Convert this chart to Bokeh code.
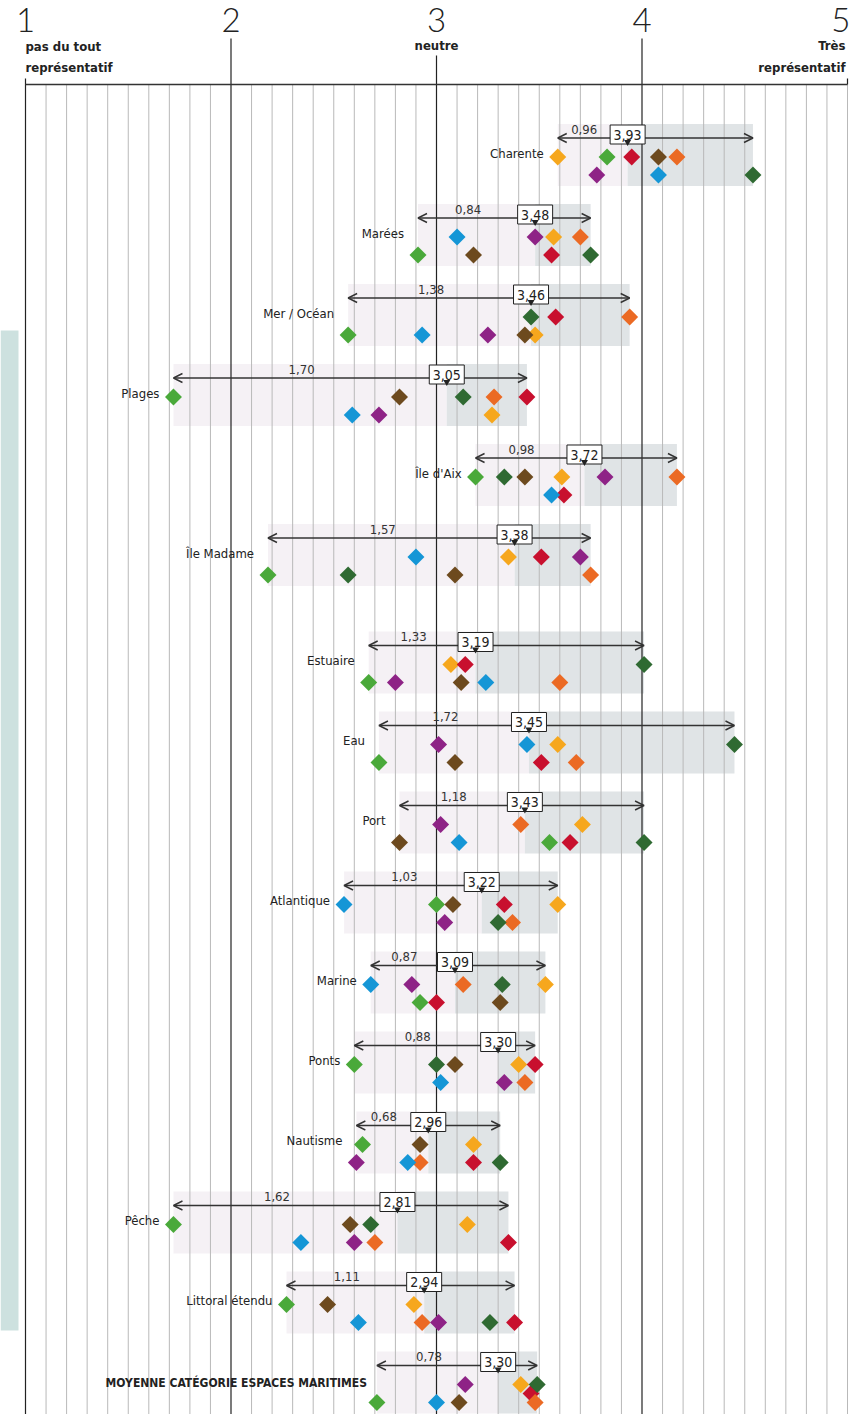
import math
from bokeh.plotting import figure
from bokeh.models import ColumnDataSource, Range1d, Arrow, OpenHead
from bokeh.core.properties import value
from bokeh.embed import file_html
from bokeh.resources import INLINE

# ---------------- data ----------------
categories = ["Charente", "Marées", "Mer / Océan", "Plages", "Île d'Aix", "Île Madame",
              "Estuaire", "Eau", "Port", "Atlantique", "Marine", "Ponts", "Nautisme",
              "Pêche", "Littoral étendu", "MOYENNE CATÉGORIE ESPACES MARITIMES"]
groupe = [0, 0, 0, 0, 0, 0, 1, 1, 1, 1, 1, 1, 1, 1, 1, 1]
moyenne = [3.93, 3.48, 3.46, 3.05, 3.72, 3.38, 3.19, 3.45, 3.43, 3.22, 3.09, 3.30, 2.96, 2.81, 2.94, 3.30]
etendue = [0.96, 0.84, 1.38, 1.70, 0.98, 1.57, 1.33, 1.72, 1.18, 1.03, 0.87, 0.88, 0.68, 1.62, 1.11, 0.78]

serie_jaune = [3.59, 3.57, 3.48, 3.27, 3.61, 3.35, 3.07, 3.59, 3.71, 3.59, 3.53, 3.40, 3.18, 3.15, 2.89, 3.41]
serie_vert = [3.83, 2.91, 2.57, 1.72, 3.19, 2.18, 2.67, 2.72, 3.55, 3.00, 2.92, 2.60, 2.64, 1.72, 2.27, 2.71]
serie_rouge = [3.95, 3.56, 3.58, 3.44, 3.62, 3.51, 3.14, 3.51, 3.65, 3.33, 3.00, 3.48, 3.18, 3.35, 3.38, 3.46]
serie_marron = [4.08, 3.18, 3.43, 2.82, 3.43, 3.09, 3.12, 3.09, 2.82, 3.08, 3.31, 3.09, 2.92, 2.58, 2.47, 3.11]
serie_orange = [4.17, 3.70, 3.94, 3.28, 4.17, 3.75, 3.60, 3.68, 3.41, 3.37, 3.13, 3.43, 2.92, 2.70, 2.93, 3.48]
serie_violet = [3.78, 3.48, 3.25, 2.72, 3.82, 3.70, 2.80, 3.01, 3.02, 3.04, 2.88, 3.33, 2.61, 2.60, 3.01, 3.14]
serie_bleu = [4.08, 3.10, 2.93, 2.59, 3.56, 2.90, 3.24, 3.44, 3.11, 2.55, 2.68, 3.02, 2.86, 2.34, 2.62, 3.00]
serie_vert_fonce = [4.54, 3.75, 3.46, 3.13, 3.33, 2.57, 4.01, 4.45, 4.01, 3.30, 3.32, 3.00, 3.31, 2.68, 3.26, 3.49]

# rangée (haut = 0, bas = 1) de chaque losange
niv_jaune = [0, 0, 1, 1, 0, 0, 0, 0, 0, 0, 0, 0, 0, 0, 0, 0]
niv_vert = [0, 1, 1, 0, 0, 1, 1, 1, 1, 0, 1, 0, 0, 0, 0, 1]
niv_rouge = [0, 1, 0, 0, 1, 0, 0, 1, 1, 0, 1, 0, 1, 1, 1, 0.5]
niv_marron = [0, 1, 1, 0, 0, 1, 1, 1, 1, 0, 1, 0, 0, 0, 0, 1]
niv_orange = [0, 0, 0, 0, 0, 1, 1, 1, 0, 1, 0, 1, 1, 1, 1, 1]
niv_violet = [1, 0, 1, 1, 0, 0, 1, 0, 0, 1, 0, 1, 1, 1, 1, 0]
niv_bleu = [1, 0, 1, 1, 1, 0, 1, 0, 1, 0, 0, 1, 1, 1, 1, 1]
niv_vert_fonce = [1, 1, 0, 0, 0, 1, 0, 0, 1, 1, 0, 0, 1, 0, 1, 0]

echelle = [1, 2, 3, 4, 5]

series = [
    (serie_jaune, niv_jaune, "#f6a71d"),
    (serie_vert, niv_vert, "#4aa93a"),
    (serie_rouge, niv_rouge, "#c8102e"),
    (serie_marron, niv_marron, "#6d4a1e"),
    (serie_orange, niv_orange, "#eb6a24"),
    (serie_violet, niv_violet, "#8e2386"),
    (serie_bleu, niv_bleu, "#1596d6"),
    (serie_vert_fonce, niv_vert_fonce, "#2f6a32"),
]

# ---------------- layout ----------------
PXU = 205.5  # pixels per unit
W, H = 852, 1414
FONT = value("'DejaVu Sans Condensed', Roboto, sans-serif")
FONT_BIG = value("'Lato Light', 'Roboto Light', Lato, sans-serif")

p = figure(width=W, height=H, output_backend="svg", toolbar_location=None,
           x_range=Range1d(1 - 25 / PXU, 1 + 827 / PXU),
           y_range=Range1d(1414, 0), min_border=0, outline_line_color=None)
p.axis.visible = False
p.grid.visible = False
p.background_fill_color = "white"

n = len(categories)
ya = [137.5 + 80 * i + 27.5 * groupe[i] for i in range(n)]
mins = [min(s[0][i] for s in series) for i in range(n)]
maxs = [max(s[0][i] for s in series) for i in range(n)]

# decorative strip on the left page edge
strip = p.quad(left=[1 - 25 / PXU], right=[1 - 7 / PXU], top=[330], bottom=[1330],
               fill_color="#cde1df", line_color=None)
strip.level = "image"

# bands
band_src = ColumnDataSource(dict(mn=mins, mx=maxs, moy=moyenne,
                                 top=[a - 14 for a in ya], bot=[a + 48 for a in ya]))
r1 = p.quad(left="mn", right="moy", top="top", bottom="bot", source=band_src,
            fill_color="#f3eff3", fill_alpha=0.85, line_color=None)
r2 = p.quad(left="moy", right="mx", top="top", bottom="bot", source=band_src,
            fill_color="#dbdfe2", fill_alpha=0.85, line_color=None)

# grid lines
minor = [round(1 + k / 10, 1) for k in range(1, 40) if k % 10 != 0]
gm = p.segment(x0=minor, x1=minor, y0=[84] * len(minor), y1=[1414] * len(minor),
               line_color="#b9b9b9", line_width=1)
gm.level = "image"
r1.level = "image"
r2.level = "image"
major_top = [78, 38, 55, 38, 78]
gM = p.segment(x0=echelle[:4], x1=echelle[:4], y0=major_top[:4], y1=[1414] * 4,
               line_color="#222222", line_width=1.2)
gM.level = "image"
g5 = p.segment(x0=[5], x1=[5], y0=[84], y1=[1414], line_color="#b9b9b9", line_width=1)
g5.level = "image"
t5 = p.segment(x0=[5], x1=[5], y0=[78], y1=[84], line_color="#222222", line_width=1.2)
hl = p.segment(x0=[1], x1=[5], y0=[84], y1=[84], line_color="#333333", line_width=1.5)

# scale header
p.text(x=echelle[:4], y=[19] * 4, text=[str(v) for v in echelle[:4]], text_font=FONT_BIG,
       text_font_size="33px", text_align="center", text_baseline="middle",
       text_color="#222222")
p.text(x=echelle[4:], y=[19], text=[str(v) for v in echelle[4:]], text_font=FONT_BIG,
       text_font_size="33px", text_align="right", text_baseline="middle",
       x_offset=3, text_color="#222222")
hdr = dict(text_font=FONT, text_font_size="13px", text_font_style="bold",
           text_color="#222222", text_baseline="middle")
p.text(x=[1, 1], y=[46, 67], text=["pas du tout", "représentatif"], text_align="left", **hdr)
p.text(x=[3], y=[45], text=["neutre"], text_align="center", **hdr)
p.text(x=[5, 5], y=[45, 67], text=["Très", "représentatif"], text_align="right",
       x_offset=-2, **hdr)

# arrows
arr_src = ColumnDataSource(dict(mn=mins, mx=maxs, y=ya))
arrow = Arrow(x_start="mn", y_start="y", x_end="mx", y_end="y", source=arr_src,
              line_color="#333333", line_width=1.4,
              start=OpenHead(size=9, line_color="#333333", line_width=1.4),
              end=OpenHead(size=9, line_color="#333333", line_width=1.4))
arrow.level = "underlay"
p.add_layout(arrow)

# range labels
lab_x = [(mins[i] + moyenne[i]) / 2 for i in range(n)]
p.text(x=lab_x, y=[a - 9 for a in ya], text=[f"{v:.2f}".replace(".", ",") for v in etendue],
       x_offset=-8.5, text_font=FONT, text_font_size="13px", text_align="center",
       text_baseline="middle", text_color="#333333")

# mean boxes
p.rect(x=moyenne, y=[a - 3.5 for a in ya], width=35, height=19, width_units="screen",
       height_units="screen", fill_color="white", line_color="#222222", line_width=1)
p.scatter(x=moyenne, y=[a + 4 for a in ya], marker="inverted_triangle", size=7,
          fill_color="#222222", line_color=None)
p.text(x=moyenne, y=[a - 3.5 for a in ya], text=[f"{v:.2f}".replace(".", ",") for v in moyenne],
       text_font=FONT, text_font_size="14px", text_align="center", text_baseline="middle",
       text_color="#222222")

# diamonds
for vals, niv, col in series:
    ys = [ya[i] + 19 + 18 * niv[i] for i in range(n)]
    p.scatter(x=vals, y=ys, marker="square", size=12, angle=math.pi / 4,
              fill_color=col, line_color=None)

# category labels
p.text(x=mins[:-1], y=[a + 15 for a in ya[:-1]], text=categories[:-1], x_offset=-14,
       text_font=FONT, text_font_size="13px", text_align="right", text_baseline="middle",
       text_color="#222222")
p.text(x=mins[-1:], y=[ya[-1] + 17], text=categories[-1:], x_offset=-10,
       text_font=FONT, text_font_size="12px", text_font_style="bold", text_align="right",
       text_baseline="middle", text_color="#222222")

open("out.html", "w").write(file_html(p, INLINE))
